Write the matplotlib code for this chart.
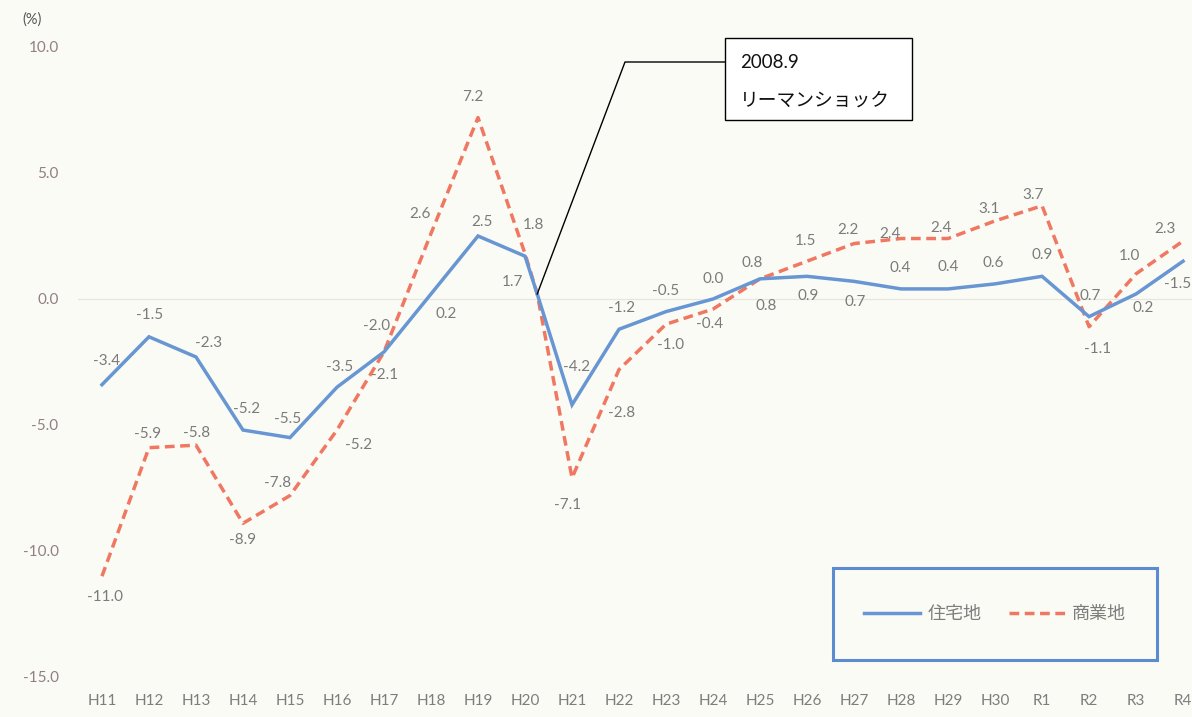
import numpy as np
import matplotlib
matplotlib.use("Agg")
import matplotlib.pyplot as plt
from matplotlib.patches import Rectangle
from matplotlib.lines import Line2D

plt.rcParams['font.family'] = ['Lato', 'Noto Sans CJK JP', 'DejaVu Sans']
plt.rcParams['axes.unicode_minus'] = False

# data (year-on-year change of land price, %)
categories = ['H11', 'H12', 'H13', 'H14', 'H15', 'H16', 'H17', 'H18', 'H19', 'H20',
              'H21', 'H22', 'H23', 'H24', 'H25', 'H26', 'H27', 'H28', 'H29', 'H30',
              'R1', 'R2', 'R3', 'R4']
residential = [-3.4, -1.5, -2.3, -5.2, -5.5, -3.5, -2.1, 0.2, 2.5, 1.7,
               -4.2, -1.2, -0.5, 0.0, 0.8, 0.9, 0.7, 0.4, 0.4, 0.6,
               0.9, -0.7, 0.2, 1.5]
commercial = [-11.0, -5.9, -5.8, -8.9, -7.8, -5.2, -2.1, 2.6, 7.2, 1.8,
              -7.1, -2.8, -1.0, -0.4, 0.8, 1.5, 2.2, 2.4, 2.4, 3.1,
              3.7, -1.1, 1.0, 2.3]
residential_labels = ['-3.4', '-1.5', '-2.3', '-5.2', '-5.5', '-3.5', '-2.0', '0.2', '2.5', '1.7',
                      '-4.2', '-1.2', '-0.5', '0.0', '0.8', '0.9', '0.7', '0.4', '0.4', '0.6',
                      '0.9', '0.7', '0.2', '-1.5']
commercial_labels = ['-11.0', '-5.9', '-5.8', '-8.9', '-7.8', '-5.2', '-2.1', '2.6', '7.2', '1.8',
                     '-7.1', '-2.8', '-1.0', '-0.4', '0.8', '1.5', '2.2', '2.4', '2.4', '3.1',
                     '3.7', '-1.1', '1.0', '2.3']
# Lehman shock (2008.9) point shared by both lines, between H20 and H21
lehman_pos = 9.26
lehman_val = 0.2
yticks = [10, 5, 0, -5, -10, -15]
ytick_labels = ['10.0', '5.0', '0.0', '-5.0', '-10.0', '-15.0']

# label offsets in pixels (x, y up)
res_off = [(5, 24), (1, 22), (13, 14), (4, 21), (-2, 19), (3, 20), (-7, 26), (15, -20),
           (4, 14), (-13, -26), (5, 38), (3, 21), (0, 21), (0, 20), (6, -27), (1, -20),
           (1, -21), (-1, 21), (0, 22), (-2, 21), (0, 21), (1, 21), (7, -14), (-6, -23)]
com_off = [(3, -21), (-1, 14), (1, 12), (0, -17), (-12, 13), (22, -15), (1, -23), (-11, 19),
           (-5, 21), (8, 29), (-4, -27), (3, -43), (5, -21), (-3, -15), (-8, 16), (-2, 20),
           (-6, 14), (-11, 5), (-7, 11), (-6, 12), (-9, 11), (9, -22), (-7, 18), (-18, 12)]

BLUE = '#6796d2'
RED = '#f07862'
GREY = '#7b7b7b'
BG = '#fbfbf6'
W, H = 1192, 717

fig = plt.figure(figsize=(W / 100, H / 100), dpi=100, facecolor=BG)
ax = fig.add_axes([78 / W, 40 / H, (W - 78) / W, 630 / H])
ax.set_facecolor(BG)

pos = np.arange(len(categories), dtype=float)
k = categories.index('H20') + 1
xs = np.insert(pos, k, lehman_pos)
ys_res = np.insert(np.array(residential), k, lehman_val)
ys_com = np.insert(np.array(commercial), k, lehman_val)

ax.axhline(0, color='#e6e6de', lw=0.9, zorder=0)
ax.plot(xs, ys_res, color=BLUE, lw=2.5, solid_joinstyle='miter', zorder=3, label='住宅地')
ax.plot(xs, ys_com, color=RED, lw=2.5, dashes=(2.8, 1.6), zorder=2, label='商業地')

for i in range(len(categories)):
    ax.annotate(residential_labels[i], (pos[i], residential[i]), xytext=res_off[i],
                textcoords='offset pixels', ha='center', va='center',
                fontsize=11, color=GREY, zorder=5)
    ax.annotate(commercial_labels[i], (pos[i], commercial[i]), xytext=com_off[i],
                textcoords='offset pixels', ha='center', va='center',
                fontsize=11, color=GREY, zorder=5)

ax.set_xlim(-0.51, 23.19)
ax.set_ylim(-15, 10)
ax.set_xticks(pos)
ax.set_xticklabels(categories)
ax.set_yticks(yticks)
ax.set_yticklabels(ytick_labels)
ax.tick_params(axis='x', length=0, pad=12, labelsize=11, labelcolor='#7d7d7d')
ax.tick_params(axis='y', length=0, pad=14, labelsize=11, labelcolor='#927f82')
for s in ax.spines.values():
    s.set_visible(False)

fig.text(32 / W, 1 - 20 / H, '(%)', ha='center', va='center', fontsize=10.5, color='#555555')

# Lehman shock callout
to_data = lambda px, py: ax.transData.inverted().transform(
    fig.transFigure.transform((px / W, 1 - py / H)))
bend = to_data(625, 62)
box_l = to_data(725, 62)
ax.plot([lehman_pos, bend[0], box_l[0]], [lehman_val, bend[1], box_l[1]],
        color='black', lw=1.0, clip_on=False, zorder=4)
fig.patches.append(Rectangle((725 / W, 1 - 120 / H), 187 / W, 82 / H, transform=fig.transFigure,
                             facecolor='white', edgecolor='black', lw=1.0))
fig.text(740 / W, 1 - 63 / H, '2008.9', ha='left', va='center', fontsize=13.5, color='#111111')
fig.text(740 / W, 1 - 100 / H, 'リーマンショック', ha='left', va='center', fontsize=13.5,
         color='#111111')

# legend box
fig.patches.append(Rectangle((833 / W, 1 - 660 / H), 324 / W, 92 / H, transform=fig.transFigure,
                             facecolor='none', edgecolor='#5b8bd0', lw=2.2))
handles = [Line2D([], [], color=BLUE, lw=2.5),
           Line2D([], [], color=RED, lw=2.5, dashes=(2.8, 1.6))]
fig.legend(handles, ['住宅地', '商業地'], loc='center', bbox_to_anchor=(995 / W, 1 - 614 / H),
           ncol=2, frameon=False, fontsize=13, labelcolor='#7d7d7d',
           handlelength=3.1, handletextpad=0.4, columnspacing=1.5)

plt.savefig('out.png', dpi=100, facecolor=BG)
